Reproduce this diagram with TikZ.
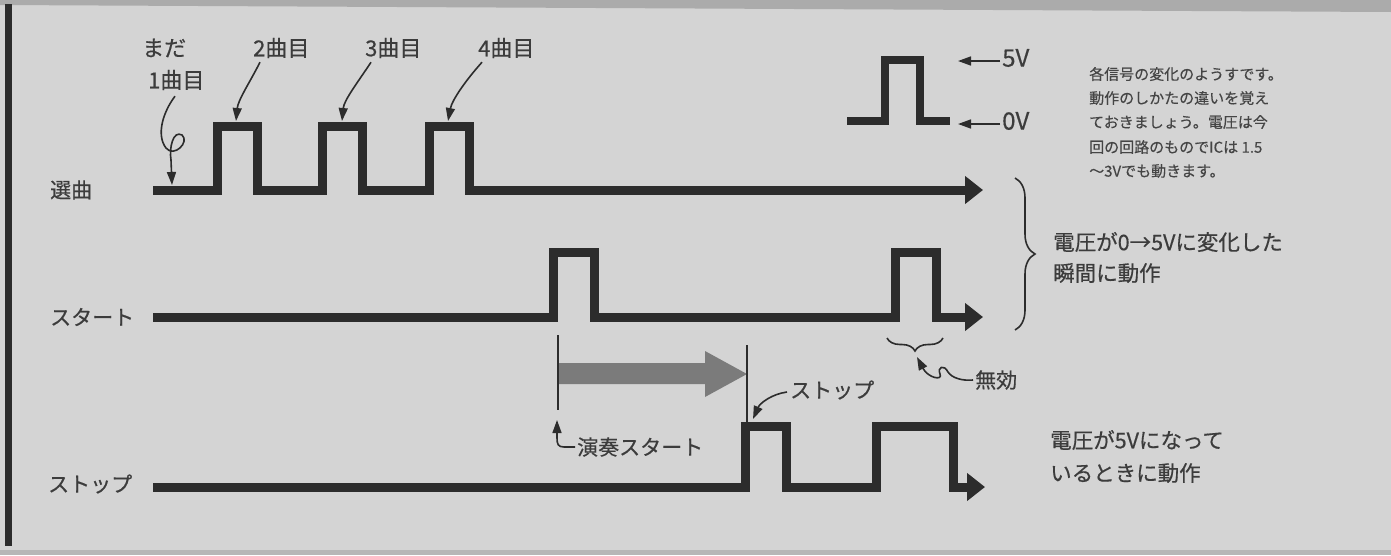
\documentclass[tikz,border=0pt]{standalone}
\usepackage{fontspec}
\newfontfamily\jp[FakeBold=0.5]{Noto Sans CJK JP}
\newfontfamily\jpn[FakeBold=0.3]{Noto Sans CJK JP}
\usetikzlibrary{arrows.meta,decorations.pathreplacing,calc}
\definecolor{bg}{HTML}{D4D4D4}
\definecolor{topc}{HTML}{ABABAB}
\definecolor{ink}{HTML}{2C2C2C}
\definecolor{txt}{HTML}{3C3C3C}
\definecolor{notec}{HTML}{454545}
\definecolor{garrow}{HTML}{7B7B7B}
\begin{document}
\begin{tikzpicture}[x=1pt,y=-1pt,
  sig/.style={draw=ink,line width=9pt,line join=miter,-{Triangle[length=18pt,width=27pt]}},
  refsig/.style={draw=ink,line width=8pt,line join=miter},
  thinarr/.style={draw=ink,line width=1.6pt,-{Triangle[length=13pt,width=9pt]}},
  brc/.style={draw=ink,line width=1.6pt,decorate},
  lbl/.style={inner sep=0pt,anchor=west,text=txt,font=\jp\fontsize{21}{21}\selectfont},
  toplbl/.style={lbl,font=\jp\fontsize{22}{22}\selectfont},
  vlbl/.style={lbl,font=\jp\fontsize{24}{24}\selectfont},
  bigtxt/.style={lbl,font=\jp\fontsize{21.5}{21.5}\selectfont},
  notetxt/.style={inner sep=0pt,anchor=west,text=notec,font=\jpn\fontsize{15}{15}\selectfont}
]
% background and frame
\fill[bg] (0,0) rectangle (1391,555);
\useasboundingbox (0,0) rectangle (1391,555);
\fill[topc] (0,0) -- (1391,0) -- (1391,12) -- (0,5) -- cycle;
\fill[ink] (5,4) rectangle (12,546);
\fill[topc!70!bg] (0,550) rectangle (1391,555);

% signal labels
\node[lbl] (senkyoku) at (50,190) {選曲};
\node[lbl] (startl) at (50,317) {スタート};
\node[lbl] (stopl) at (48,484) {ストップ};

% select signal
\draw[sig] (153,190) -- (217,190) -- (217,126) -- (257,126) -- (257,190)
  -- (322,190) -- (322,126) -- (362,126) -- (362,190)
  -- (429,190) -- (429,126) -- (469,126) -- (469,190) -- (983,190);
% start signal
\draw[sig] (153,317) -- (553,317) -- (553,252) -- (594,252) -- (594,317)
  -- (895,317) -- (895,252) -- (936,252) -- (936,317) -- (983,317);
% stop signal
\draw[sig] (153,487) -- (745,487) -- (745,426) -- (786,426) -- (786,487)
  -- (876,487) -- (876,426) -- (953,426) -- (953,487) -- (985,487);

% top labels
\node[toplbl] (mada) at (142,48) {まだ};
\node[toplbl] (one) at (148,80) {1曲目};
\node[toplbl] (two) at (253,48) {2曲目};
\node[toplbl] (three) at (365,48) {3曲目};
\node[toplbl] (four) at (478,48) {4曲目};
\coordinate (t1) at (172,185);
\coordinate (t2) at (236,121);
\coordinate (t3) at (342,121);
\coordinate (t4) at (448,121);
\draw[thinarr] ($(one.south west)+(27,6)$) .. controls (163,112) and (156,135) .. (166,148)
  .. controls (174,158) and (190,142) .. (182,135)
  .. controls (173,130) and (169,148) .. (171,160) -- (t1);
\draw[thinarr] ($(two.south west)+(7,4)$) .. controls (250,82) and (238,100) .. (t2);
\draw[thinarr] ($(three.south west)+(6,4)$) .. controls (358,82) and (344,100) .. (t3);
\draw[thinarr] ($(four.south west)+(4,4)$) .. controls (466,80) and (452,100) .. (t4);

% reference pulse
\draw[refsig] (847,121) -- (885,121) -- (885,60) -- (920,60) -- (920,121) -- (950,121);
\node[vlbl] (v5) at (1002,58) {5V};
\node[vlbl] (v0) at (1002,121) {0V};
\coordinate (a5) at (958,61);
\coordinate (a0) at (958,124);
\draw[thinarr] ($(v5.west)+(-2,3)$) -- (a5);
\draw[thinarr] ($(v0.west)+(-2,3)$) -- (a0);

% note
\node[notetxt] (n1) at (1089,74) {各信号の変化のようすです。};
\node[notetxt] (n2) at (1089,98) {動作のしかたの違いを覚え};
\node[notetxt] (n3) at (1089,122) {ておきましょう。電圧は今};
\node[notetxt] (n4) at (1089,147) {回の回路のものでICは 1.5};
\node[notetxt] (n5) at (1089,171) {〜3Vでも動きます。};

% big brace and its text
\draw[brc,decoration={brace,amplitude=20pt}] (1015,178) -- (1015,330);
\node[bigtxt] (r1a) at (1053,242) {電圧が0→5Vに変化した};
\node[bigtxt] (r1b) at (1053,273) {瞬間に動作};

% small brace and 無効
\draw[brc,decoration={brace,amplitude=13pt}] (943,338) -- (887,338);
\node[lbl] (mukou) at (975,380) {無効};
\coordinate (tm) at (917,357);
\draw[thinarr] ($(mukou.west)+(-2,0)$) .. controls (962,381) and (952,378) .. (948,372)
  .. controls (944,364) and (937,367) .. (940,374)
  .. controls (943,381) and (928,378) .. (tm);

% gray arrow and markers
\fill[garrow] (558,363) -- (705,363) -- (705,351) -- (747,374) -- (705,397) -- (705,384) -- (558,384) -- cycle;
\draw[ink,line width=1.2pt] (558,335) -- (558,410);
\draw[ink,line width=1.2pt] (747,345) -- (747,488);

% 演奏スタート
\node[lbl] (ensou) at (577,447) {演奏スタート};
\coordinate (te) at (557,420);
\draw[thinarr] ($(ensou.west)+(-2,0)$) -- (564,447) .. controls (558,447) and (557,444) .. (557,438) -- (te);

% ストップ marker
\node[lbl] (stopm) at (790,390) {ストップ};
\coordinate (ts) at (753,419);
\draw[thinarr] ($(stopm.west)+(-3,2)$) .. controls (772,394) and (760,403) .. (ts);

% bottom text
\node[bigtxt] (r2a) at (1050,440) {電圧が5Vになって};
\node[bigtxt] (r2b) at (1050,473) {いるときに動作};
\end{tikzpicture}
\end{document}
